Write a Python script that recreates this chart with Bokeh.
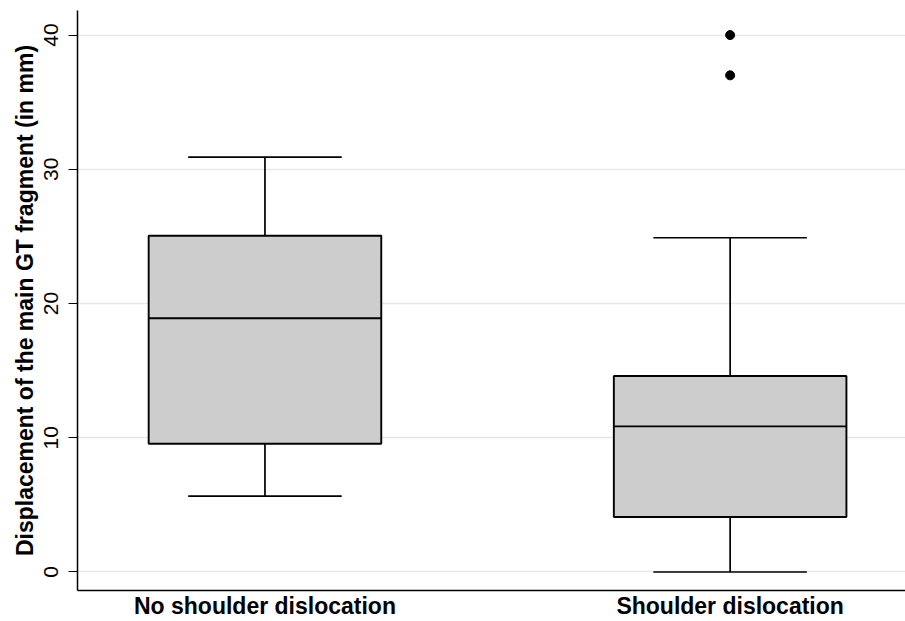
from bokeh.plotting import figure
from bokeh.models import Range1d, FixedTicker, ColumnDataSource
from bokeh.embed import file_html
from bokeh.resources import INLINE

categories = ["No shoulder dislocation", "Shoulder dislocation"]
q1 = [9.55, 4.1]
median = [18.9, 10.85]
q3 = [25.05, 14.6]
lower_whisker = [5.65, 0.0]
upper_whisker = [30.9, 24.9]
outlier_group = [2, 2]
outlier_values = [37.0, 40.0]
y_ticks = [0, 10, 20, 30, 40]

xs = [i + 1 for i in range(len(categories))]
box_w = 0.5
cap_w = 0.33

src = ColumnDataSource(dict(
    x=xs, q1=q1, med=median, q3=q3, lo=lower_whisker, hi=upper_whisker,
    cap_l=[x - cap_w / 2 for x in xs], cap_r=[x + cap_w / 2 for x in xs],
    box_l=[x - box_w / 2 for x in xs], box_r=[x + box_w / 2 for x in xs],
))

p = figure(width=905, height=621, output_backend="svg", toolbar_location=None,
           x_range=Range1d(0.597, 2.377), y_range=Range1d(-1.38, 41.83),
           min_border_left=77, min_border_right=0, min_border_top=10, min_border_bottom=10)
p.outline_line_color = None
p.background_fill_color = "white"
p.border_fill_color = "white"

# whiskers
p.segment(x0="x", y0="q3", x1="x", y1="hi", source=src, line_color="black", line_width=1.7)
p.segment(x0="x", y0="q1", x1="x", y1="lo", source=src, line_color="black", line_width=1.7)
p.segment(x0="cap_l", y0="hi", x1="cap_r", y1="hi", source=src, line_color="black", line_width=1.7)
p.segment(x0="cap_l", y0="lo", x1="cap_r", y1="lo", source=src, line_color="black", line_width=1.7)
# boxes
p.vbar(x="x", width=box_w, bottom="q1", top="q3", source=src,
       fill_color="#cdcdcd", line_color="black", line_width=1.9)
p.segment(x0="box_l", y0="med", x1="box_r", y1="med", source=src, line_color="black", line_width=1.9)
# outliers
p.scatter(x=outlier_group, y=outlier_values, size=9, marker="circle",
          fill_color="black", line_color="black")

# axes
p.xaxis.ticker = FixedTicker(ticks=xs)
p.xaxis.major_label_overrides = {x: c for x, c in zip(xs, categories)}
p.xaxis.major_tick_line_color = None
p.xaxis.major_tick_in = 0
p.xaxis.major_tick_out = 0
p.xaxis.minor_tick_line_color = None
p.xaxis.major_label_text_font = "Liberation Sans"
p.xaxis.major_label_text_font_style = "bold"
p.xaxis.major_label_text_font_size = "23px"
p.xaxis.major_label_text_color = "black"
p.xaxis.major_label_text_line_height = 0.9
p.xaxis.major_label_standoff = 2
p.xaxis.axis_line_width = 1.5
p.xaxis.axis_line_color = "black"

p.yaxis.ticker = FixedTicker(ticks=y_ticks)
p.yaxis.major_label_orientation = "vertical"
p.yaxis.major_label_text_font = "Liberation Sans"
p.yaxis.major_label_text_font_size = "21px"
p.yaxis.major_label_text_color = "black"
p.yaxis.major_tick_in = 0
p.yaxis.major_tick_out = 9
p.yaxis.major_tick_line_width = 1.2
p.yaxis.minor_tick_line_color = None
p.yaxis.axis_line_width = 1.5
p.yaxis.axis_line_color = "black"
p.yaxis.axis_label = "Displacement of the main GT fragment (in mm)"
p.yaxis.axis_label_text_font = "Liberation Sans"
p.yaxis.axis_label_text_font_style = "bold"
p.yaxis.axis_label_text_font_size = "23px"
p.yaxis.axis_label_text_color = "black"
p.yaxis.axis_label_standoff = 4
p.yaxis.major_label_standoff = 10

p.xgrid.grid_line_color = None
p.ygrid.ticker = FixedTicker(ticks=y_ticks)
p.ygrid.grid_line_color = "#e8e8e8"
p.ygrid.grid_line_width = 1.5

open("out.html", "w").write(file_html(p, INLINE))
